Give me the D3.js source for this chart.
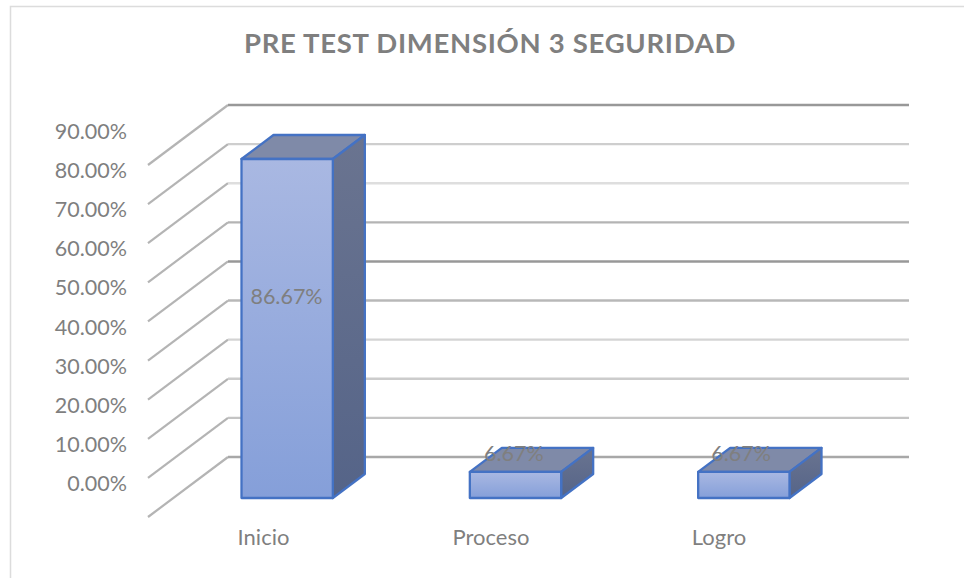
<!DOCTYPE html>
<html>
<head>
<meta charset="utf-8">
<script src="https://cdn.jsdelivr.net/npm/d3@7"></script>
<style>
  body { margin: 0; background: #fff; }
  text { font-family: Lato, sans-serif; fill: #7f7f7f; }
</style>
</head>
<body>
<div id="chart"></div>
<script>
const categories = ["Inicio", "Proceso", "Logro"];
const values = [86.67, 6.67, 6.67];
const valueLabels = ["86.67%", "6.67%", "6.67%"];
const ticks = [0, 10, 20, 30, 40, 50, 60, 70, 80, 90];
const gridColors = ["#a8a8a8", "#c4c4c4", "#cccccc", "#d4d4d4", "#b8b8b8", "#989898", "#b4b4b4", "#dedede", "#cecece", "#989898"];

const width = 964, height = 578;

const svg = d3.select("#chart").append("svg")
  .attr("width", width)
  .attr("height", height);

const y = d3.scaleLinear().domain([0, 90]).range([0, -352]);
const x = d3.scaleBand().domain(categories).range([173, 858]).paddingInner(0.6).paddingOuter(0.3);

// floor corners of the 3d box
const front = { x: 148, y: 517 };
const back = { x: 228, y: 457 };
const barBase = 498;
const depth = { x: 32, y: -24 };
const gridRight = 909;

const defs = svg.append("defs");
function gradient(id, top, bottom) {
  const g = defs.append("linearGradient").attr("id", id)
    .attr("x1", 0).attr("y1", 0).attr("x2", 0).attr("y2", 1);
  g.append("stop").attr("offset", "0%").attr("stop-color", top);
  g.append("stop").attr("offset", "100%").attr("stop-color", bottom);
}
gradient("frontFill", "#a9b8e2", "#859fd9");
gradient("sideFill", "#6a7490", "#556488");

// source image is a soft screenshot, take the edge off the thin lines
defs.append("filter").attr("id", "soft")
  .append("feGaussianBlur").attr("stdDeviation", 0.45);

// chart frame
svg.append("path")
  .attr("d", `M10.5,${height}V6.5H${width}`)
  .attr("fill", "none")
  .attr("stroke", "#dcdcdc")
  .attr("stroke-width", 1.5);

svg.append("text")
  .attr("x", 490)
  .attr("y", 53)
  .attr("text-anchor", "middle")
  .attr("font-size", 27.5)
  .attr("font-weight", 700)
  .attr("letter-spacing", 0.7)
  .text("PRE TEST DIMENSIÓN 3 SEGURIDAD");

// gridlines, side wall then back wall
const grid = svg.append("g").attr("filter", "url(#soft)");

grid.selectAll("path.side")
  .data(ticks)
  .join("path")
  .attr("class", "side")
  .attr("d", d => `M${front.x},${front.y + y(d)}L${back.x},${back.y + y(d)}`)
  .attr("fill", "none")
  .attr("stroke", "#b4b4b4")
  .attr("stroke-width", 2.2);

grid.selectAll("path.wall")
  .data(ticks)
  .join("path")
  .attr("class", "wall")
  .attr("d", d => `M${back.x},${back.y + y(d)}H${gridRight}`)
  .attr("fill", "none")
  .attr("stroke", (d, i) => gridColors[i])
  .attr("stroke-width", 2.4);

svg.append("g").selectAll("text")
  .data(ticks)
  .join("text")
  .attr("x", 127)
  .attr("y", d => front.y + y(d) - 26)
  .attr("text-anchor", "end")
  .attr("font-size", 21.5)
  .text(d => d3.format(".2f")(d) + "%");

const bars = svg.append("g").selectAll("g")
  .data(categories)
  .join("g");

bars.each(function(c, i) {
  const g = d3.select(this);
  const x0 = x(c), x1 = x0 + x.bandwidth();
  const yBase = barBase, yTop = barBase + y(values[i]);

  g.append("path")
    .attr("d", `M${x0},${yTop}L${x0 + depth.x},${yTop + depth.y}H${x1 + depth.x}L${x1},${yTop}Z`)
    .attr("fill", "#7f8aa8");
  g.append("path")
    .attr("d", `M${x1},${yTop}L${x1 + depth.x},${yTop + depth.y}V${yBase + depth.y}L${x1},${yBase}Z`)
    .attr("fill", "url(#sideFill)");
  g.append("rect")
    .attr("x", x0)
    .attr("y", yTop)
    .attr("width", x.bandwidth())
    .attr("height", yBase - yTop)
    .attr("fill", "url(#frontFill)");
  g.selectAll("path,rect")
    .attr("stroke", "#4472c4")
    .attr("stroke-width", 2.3)
    .attr("stroke-linejoin", "round");
});

svg.append("g").selectAll("text")
  .data(categories)
  .join("text")
  .attr("x", (d, i) => [263.5, 491, 719][i])
  .attr("y", 545)
  .attr("text-anchor", "middle")
  .attr("font-size", 22)
  .text(d => d);

svg.append("g").selectAll("text")
  .data(categories)
  .join("text")
  .attr("x", (d, i) => x(d) + [45, 44, 43][i])
  .attr("y", (d, i) => [304, 461, 461][i])
  .attr("text-anchor", "middle")
  .attr("font-size", 21.5)
  .text((d, i) => valueLabels[i]);
</script>
</body>
</html>
